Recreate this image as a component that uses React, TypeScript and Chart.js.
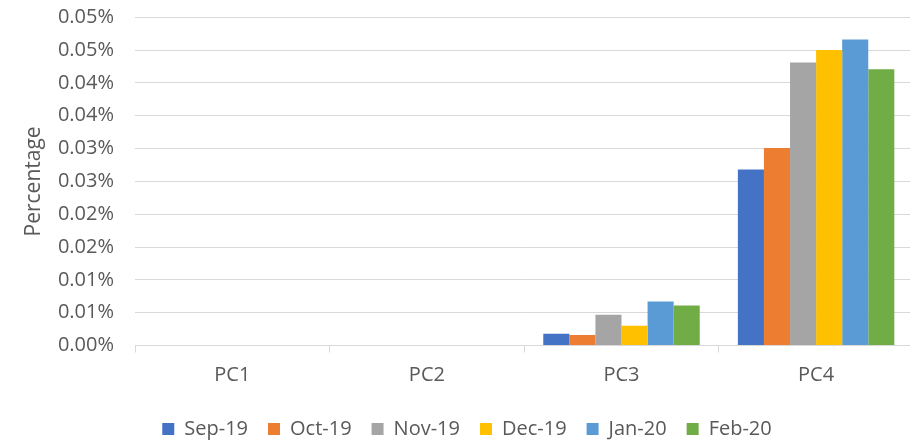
import React, { useEffect, useRef } from "react";
import { Chart, registerables } from "chart.js";

Chart.register(...registerables);

const categories = ["PC1", "PC2", "PC3", "PC4"];
const seriesNames = ["Sep-19", "Oct-19", "Nov-19", "Dec-19", "Jan-20", "Feb-20"];
const seriesColors = ["#4472C4", "#ED7D31", "#A5A5A5", "#FFC000", "#5B9BD5", "#70AD47"];
// values in percent units (0.045 = 0.045%)
const sep19 = [0, 0, 0.0018, 0.0268];
const oct19 = [0, 0, 0.0016, 0.0301];
const nov19 = [0, 0, 0.0047, 0.0431];
const dec19 = [0, 0, 0.003, 0.045];
const jan20 = [0, 0, 0.0067, 0.0466];
const feb20 = [0, 0, 0.0061, 0.0421];
const seriesValues = [sep19, oct19, nov19, dec19, jan20, feb20];
const yMin = 0;
const yMax = 0.05;
const yStep = 0.005;

const FONT = "'Open Sans', 'Noto Sans', sans-serif";
const TEXT = "#595959";
const GRID = "#d9d9d9";

export default function App() {
  const ref = useRef<HTMLCanvasElement | null>(null);
  useEffect(() => {
    if (!ref.current) return;
    const chart = new Chart(ref.current, {
      type: "bar",
      data: {
        labels: categories,
        datasets: seriesNames.map((name, i) => ({
          label: name,
          data: seriesValues[i],
          backgroundColor: seriesColors[i],
          borderWidth: 0,
          categoryPercentage: 0.804,
          barPercentage: 1,
        })),
      },
      options: {
        responsive: false,
        animation: false,
        layout: { padding: { top: 17.3, left: 0, right: 0, bottom: 0 } },
        plugins: {
          tooltip: { enabled: false },
          legend: {
            position: "bottom",
            align: "center",
            labels: {
              boxWidth: 12,
              boxHeight: 12,
              padding: 20,
              color: TEXT,
              font: { family: FONT, size: 20 },
            },
          },
        },
        scales: {
          x: {
            offset: true,
            grid: {
              display: true,
              offset: true,
              drawOnChartArea: false,
              drawTicks: true,
              tickLength: 7,
              color: GRID,
            },
            border: { display: true, color: GRID, width: 1 },
            ticks: { color: TEXT, font: { family: FONT, size: 20 }, padding: 11 },
            afterFit: (s: any) => {
              s.height = 53.5;
            },
          },
          y: {
            min: yMin,
            max: yMax,
            grid: {
              color: GRID,
              lineWidth: 1,
              drawTicks: true,
              tickLength: 21,
              tickColor: "rgba(0,0,0,0)",
            },
            border: { display: false },
            ticks: {
              stepSize: yStep,
              padding: 0,
              color: TEXT,
              font: { family: FONT, size: 20 },
              callback: (v: any) => (Math.round(Number(v) * 100 + 1e-6) / 100).toFixed(2) + "%",
            },
            title: {
              display: true,
              text: "Percentage",
              color: TEXT,
              font: { family: FONT, size: 21 },
              padding: { top: 21, bottom: 0 },
            },
            afterFit: (s: any) => {
              s.width = 135;
            },
          },
          yPad: {
            type: "linear",
            position: "right",
            display: true,
            grid: { display: false },
            border: { display: false },
            ticks: { display: false },
            afterFit: (s: any) => {
              s.width = 20.6;
            },
          },
        },
      },
    } as any);
    return () => chart.destroy();
  }, []);
  return (
    <div
      style={{
        position: "absolute",
        left: 0,
        top: 0,
        width: 910,
        height: 442,
        overflow: "hidden",
        background: "#fff",
      }}
    >
      <canvas ref={ref} width={934} height={449} style={{ display: "block", width: 934, height: 449 }} />
    </div>
  );
}
